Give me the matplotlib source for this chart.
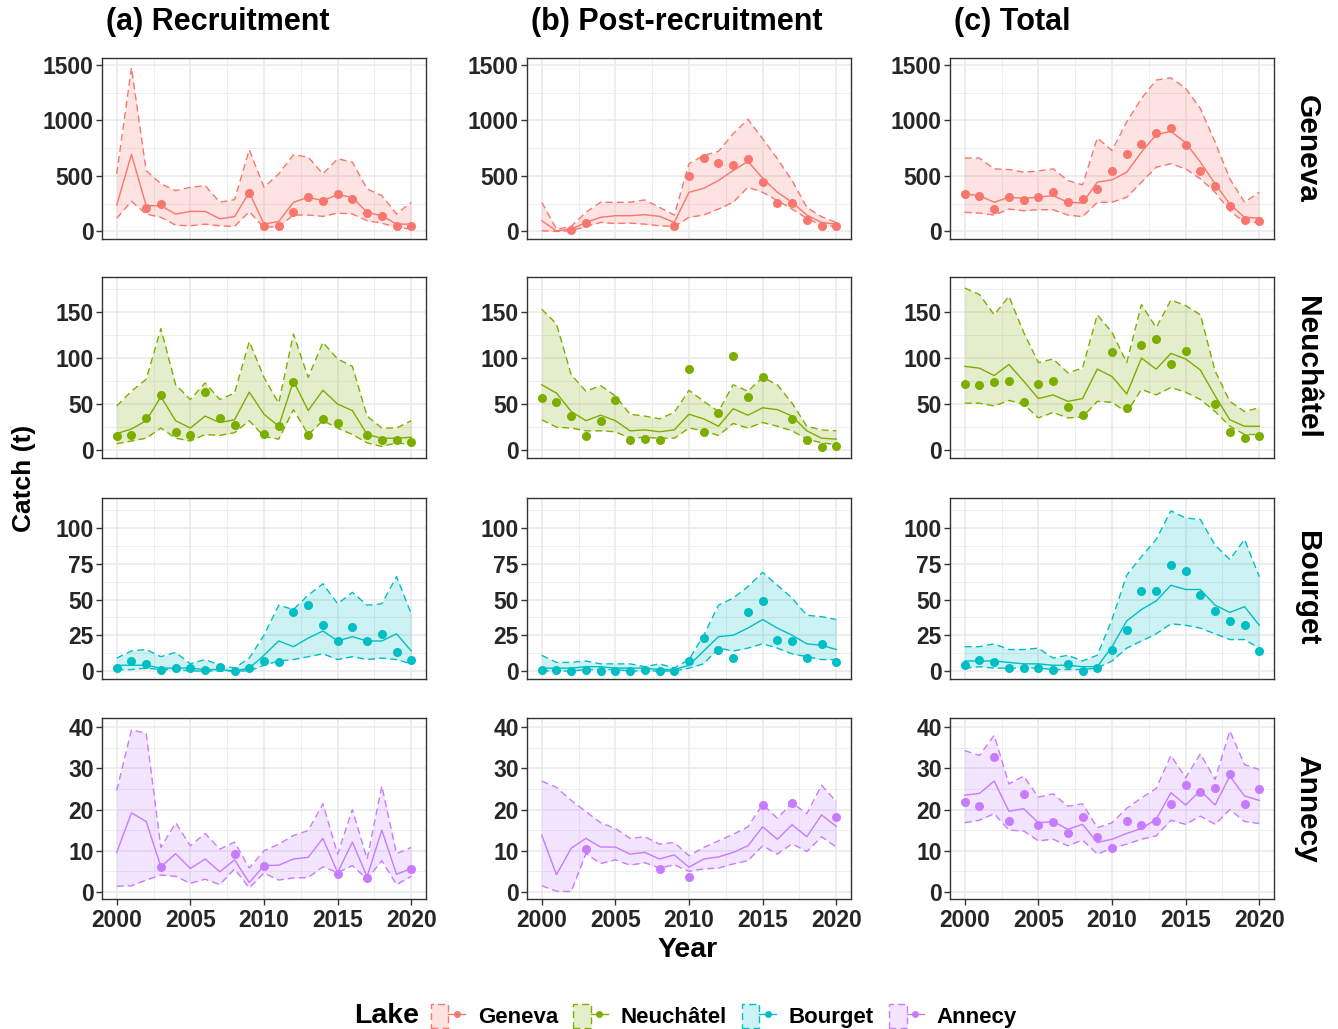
import numpy as np
import matplotlib
matplotlib.use('Agg')
import matplotlib.pyplot as plt
from matplotlib.patches import Patch
from matplotlib.lines import Line2D
from matplotlib.legend_handler import HandlerTuple

plt.rcParams['font.family'] = ['Liberation Sans', 'DejaVu Sans']
plt.rcParams['font.weight'] = 'bold'

nan = np.nan
YEARS = list(range(2000, 2021))
LAKES = ['Geneva', 'Neuchâtel', 'Bourget', 'Annecy']
COLOURS = ['#F8766D', '#7CAE00', '#00BFC4', '#C77CFF']
COLUMN_TITLES = ['(a) Recruitment', '(b) Post-recruitment', '(c) Total']

# Geneva
GEN_REC_MED = [238, 694, 232, 232, 157, 181, 181, 115, 133, 353, 66, 90, 263, 308, 278, 332, 308, 172, 142, 66, 66]
GEN_REC_HI = [519, 1476, 549, 429, 368, 398, 413, 263, 287, 736, 398, 519, 691, 670, 519, 655, 625, 383, 323, 157, 263]
GEN_REC_LO = [118, 272, 157, 127, 57, 51, 66, 51, 45, 178, 36, 45, 148, 148, 136, 166, 157, 97, 75, 36, 21]
GEN_REC_OBS = [nan, nan, 208, 244, nan, nan, nan, nan, nan, 344, 51, 51, 178, 308, 272, 335, 293, 169, 139, 51, 51]

GEN_POST_MED = [97, 5, 21, 81, 127, 142, 142, 151, 136, 81, 353, 389, 459, 549, 631, 480, 353, 263, 148, 81, 66]
GEN_POST_HI = [263, 21, 45, 172, 263, 263, 263, 284, 217, 148, 610, 685, 721, 881, 1011, 836, 655, 459, 217, 133, 81]
GEN_POST_LO = [6, 0, 6, 45, 81, 72, 75, 66, 51, 45, 127, 148, 202, 263, 398, 353, 278, 202, 118, 57, 45]
GEN_POST_OBS = [nan, nan, 12, 75, nan, nan, nan, nan, nan, 51, 504, 664, 619, 595, 655, 450, 257, 257, 100, 48, 48]

GEN_TOT_MED = [338, 323, 263, 308, 299, 308, 323, 263, 257, 444, 465, 534, 715, 872, 902, 800, 625, 429, 247, 127, 121]
GEN_TOT_HI = [661, 661, 564, 558, 534, 545, 564, 459, 420, 842, 730, 987, 1198, 1364, 1385, 1289, 1108, 806, 474, 263, 353]
GEN_TOT_LO = [172, 166, 148, 202, 187, 196, 196, 148, 133, 263, 263, 308, 444, 579, 610, 564, 474, 353, 187, 81, 81]
GEN_TOT_OBS = [335, 320, 205, 308, 281, 308, 359, 269, 293, 383, 543, 697, 785, 890, 933, 776, 543, 413, 229, 103, 91]

# Neuchatel
NEU_REC_MED = [18, 23, 32, 58, 32, 24, 37, 30, 33, 63, 39, 26, 75, 43, 65, 50, 43, 17, 13, 13, 14]
NEU_REC_HI = [48, 64, 77, 132, 71, 55, 73, 55, 62, 118, 79, 51, 126, 79, 117, 99, 91, 37, 24, 24, 32]
NEU_REC_LO = [7, 10, 13, 24, 13, 10, 17, 16, 19, 32, 15, 12, 44, 17, 32, 24, 17, 8, 4, 8, 6]
NEU_REC_OBS = [15, 16, 35, 60, 20, 16, 63, 35, 27, nan, 18, 26, 74, 17, 34, 29, nan, 16, 11, 11, 9]

NEU_POST_MED = [71, 62, 42, 32, 38, 32, 21, 22, 20, 22, 39, 34, 26, 45, 38, 46, 44, 37, 21, 13, 12]
NEU_POST_HI = [153, 137, 82, 64, 70, 59, 39, 37, 34, 41, 65, 53, 42, 71, 64, 79, 71, 51, 26, 22, 21]
NEU_POST_LO = [33, 25, 24, 21, 21, 20, 13, 14, 13, 13, 24, 21, 16, 29, 24, 30, 26, 21, 12, 8, 6]
NEU_POST_OBS = [57, 52, 37, 15, 32, 55, 11, 12, 11, nan, 88, 20, 40, 102, 58, 79, nan, 34, 11, 3, 5]

NEU_TOT_MED = [91, 89, 81, 93, 75, 56, 60, 53, 56, 88, 80, 61, 100, 88, 105, 99, 87, 59, 33, 26, 26]
NEU_TOT_HI = [176, 169, 147, 167, 128, 95, 99, 84, 89, 147, 128, 95, 158, 133, 163, 157, 147, 86, 53, 42, 46]
NEU_TOT_LO = [51, 51, 48, 54, 50, 35, 41, 35, 36, 53, 52, 41, 66, 60, 68, 63, 55, 42, 26, 17, 17]
NEU_TOT_OBS = [72, 71, 74, 75, 52, 72, 75, 47, 38, nan, 107, 46, 114, 121, 94, 108, nan, 50, 20, 13, 15]

# Bourget
BOU_REC_MED = [4, 4, 4, 2, 2, 2, 1, 1, 0, 2, 11, 21, 17, 23, 28, 21, 24, 21, 21, 26, 14]
BOU_REC_HI = [9, 14, 15, 10, 13, 5, 8, 4, 2, 9, 25, 46, 43, 53, 61, 47, 55, 46, 47, 66, 40]
BOU_REC_LO = [1, 1, 2, 1, 1, 0, 0, 0, 0, 0, 4, 7, 8, 10, 12, 8, 10, 8, 9, 8, 5]
BOU_REC_OBS = [2, 7, 5, 1, 2, 2, 1, 3, 0, 2, 7, 6, 41, 46, 32, 21, 31, 21, 26, 13, 8]

BOU_POST_MED = [2, 2, 2, 3, 3, 2, 2, 2, 1, 1, 4, 14, 24, 25, 30, 36, 30, 25, 19, 18, 15]
BOU_POST_HI = [11, 6, 6, 7, 5, 5, 5, 3, 5, 2, 8, 25, 46, 51, 59, 69, 60, 51, 39, 38, 36]
BOU_POST_LO = [0, 0, 0, 1, 1, 1, 0, 0, 0, 0, 2, 5, 16, 14, 16, 19, 16, 12, 10, 8, 8]
BOU_POST_OBS = [1, 1, 0, 1, 0, 0, 0, 1, 0, 0, 7, 23, 15, 9, 41, 49, 22, 21, 9, 19, 6]

BOU_TOT_MED = [7, 7, 7, 6, 5, 5, 4, 4, 3, 3, 17, 35, 43, 49, 60, 57, 57, 46, 41, 45, 32]
BOU_TOT_HI = [17, 17, 19, 15, 15, 16, 9, 11, 7, 11, 36, 67, 80, 92, 112, 107, 106, 88, 78, 92, 66]
BOU_TOT_LO = [2, 3, 2, 2, 2, 2, 1, 1, 1, 2, 7, 16, 21, 26, 33, 32, 30, 26, 22, 22, 16]
BOU_TOT_OBS = [4, 8, 6, 2, 2, 2, 1, 5, 0, 2, 15, 29, 56, 56, 74, 70, 53, 42, 35, 32, 14]

# Annecy
ANN_REC_MED = [9.6, 19.2, 17.1, 6.1, 9.3, 5.7, 8.0, 4.9, 7.8, 2.3, 6.4, 6.5, 8.0, 8.4, 13.0, 4.7, 12.1, 3.7, 15.0, 4.3, 5.7]
ANN_REC_HI = [24.6, 39.3, 38.5, 10.8, 16.8, 11.2, 14.2, 10.4, 12.1, 5.8, 10.0, 11.6, 13.7, 14.9, 21.4, 9.2, 20.0, 8.0, 25.7, 9.3, 10.8]
ANN_REC_LO = [1.4, 1.5, 2.9, 4.1, 3.8, 2.1, 3.1, 1.8, 5.6, 1.0, 4.6, 2.9, 3.4, 3.5, 6.1, 4.7, 6.4, 3.1, 7.6, 1.8, 3.8]
ANN_REC_OBS = [nan, nan, nan, 6.0, nan, nan, nan, nan, 9.3, nan, 6.2, nan, nan, nan, nan, 4.3, nan, 3.5, nan, nan, 5.6]

ANN_POST_MED = [13.8, 4.2, 10.6, 13.0, 10.9, 10.9, 9.2, 9.6, 8.0, 9.0, 6.0, 8.0, 8.5, 9.6, 11.2, 15.8, 12.8, 16.3, 13.4, 18.7, 15.9]
ANN_POST_HI = [26.9, 25.4, 22.2, 19.5, 16.8, 15.4, 13.0, 13.4, 11.6, 12.0, 8.8, 10.8, 12.4, 14.0, 15.8, 21.2, 17.9, 21.6, 19.0, 25.9, 21.9]
ANN_POST_LO = [1.5, 0.2, 0.1, 9.3, 6.9, 7.8, 6.5, 7.1, 5.8, 6.6, 5.0, 5.6, 5.8, 6.8, 7.6, 11.2, 9.2, 11.7, 9.8, 13.4, 10.9]
ANN_POST_OBS = [nan, nan, nan, 10.4, nan, nan, nan, nan, 5.6, nan, 3.7, nan, nan, nan, nan, 21.1, nan, 21.7, nan, nan, 18.3]

ANN_TOT_MED = [23.5, 23.9, 26.9, 19.6, 20.2, 16.8, 17.1, 15.2, 16.4, 12.0, 12.8, 14.2, 15.4, 17.6, 24.1, 21.1, 24.6, 21.1, 28.1, 23.3, 22.2]
ANN_TOT_HI = [34.3, 33.1, 38.0, 26.2, 28.1, 23.0, 23.8, 20.8, 21.4, 15.6, 16.8, 20.3, 22.8, 25.1, 33.1, 27.7, 33.5, 27.3, 39.1, 30.9, 29.7]
ANN_TOT_LO = [16.8, 17.4, 19.0, 15.0, 14.8, 12.4, 12.8, 11.2, 12.6, 9.2, 10.6, 11.6, 12.8, 13.6, 17.4, 16.4, 18.4, 16.4, 20.0, 17.1, 16.6]
ANN_TOT_OBS = [21.8, 20.8, 32.8, 17.3, 23.8, 16.3, 17.0, 14.2, 18.3, 13.4, 10.7, 17.3, 16.3, 17.3, 21.4, 25.9, 24.2, 25.2, 28.6, 21.4, 24.9]

PANELS = [
    [(GEN_REC_MED, GEN_REC_LO, GEN_REC_HI, GEN_REC_OBS),
     (GEN_POST_MED, GEN_POST_LO, GEN_POST_HI, GEN_POST_OBS),
     (GEN_TOT_MED, GEN_TOT_LO, GEN_TOT_HI, GEN_TOT_OBS)],
    [(NEU_REC_MED, NEU_REC_LO, NEU_REC_HI, NEU_REC_OBS),
     (NEU_POST_MED, NEU_POST_LO, NEU_POST_HI, NEU_POST_OBS),
     (NEU_TOT_MED, NEU_TOT_LO, NEU_TOT_HI, NEU_TOT_OBS)],
    [(BOU_REC_MED, BOU_REC_LO, BOU_REC_HI, BOU_REC_OBS),
     (BOU_POST_MED, BOU_POST_LO, BOU_POST_HI, BOU_POST_OBS),
     (BOU_TOT_MED, BOU_TOT_LO, BOU_TOT_HI, BOU_TOT_OBS)],
    [(ANN_REC_MED, ANN_REC_LO, ANN_REC_HI, ANN_REC_OBS),
     (ANN_POST_MED, ANN_POST_LO, ANN_POST_HI, ANN_POST_OBS),
     (ANN_TOT_MED, ANN_TOT_LO, ANN_TOT_HI, ANN_TOT_OBS)],
]

Y_TICKS = [[0, 500, 1000, 1500], [0, 50, 100, 150], [0, 25, 50, 75, 100], [0, 10, 20, 30, 40]]
Y_LIMS = [(-68, 1563), (-8.5, 188), (-5.6, 121), (-1.7, 42.2)]
X_TICKS = [2000, 2005, 2010, 2015, 2020]

W, H = 1338, 1029
COL_LEFT = [102, 527, 950]
ROW_TOP = [58, 277, 498, 718]
AX_W, AX_H = 324, 181

TEXT_COL = '#262626'
GRID_COL = '#EBEBEB'
DASH = (0, (5, 3))


def main():
    fig = plt.figure(figsize=(W / 100, H / 100), dpi=100)
    years = np.array(YEARS)
    for r in range(4):
        colour = COLOURS[r]
        yt = Y_TICKS[r]
        step = yt[1] - yt[0]
        for c in range(3):
            med, lo, hi, obs = PANELS[r][c]
            ax = fig.add_axes([COL_LEFT[c] / W, 1 - (ROW_TOP[r] + AX_H) / H, AX_W / W, AX_H / H])
            ax.set_axisbelow(True)
            ax.fill_between(years, lo, hi, color=colour, alpha=0.2, lw=0)
            ax.plot(years, lo, color=colour, lw=1, ls=DASH)
            ax.plot(years, hi, color=colour, lw=1, ls=DASH)
            ax.plot(years, med, color=colour, lw=1)
            ax.plot(years, obs, 'o', color=colour, ms=6.5, mec='none')

            ax.set_xlim(1999, 2021)
            ax.set_ylim(*Y_LIMS[r])
            ax.set_xticks(X_TICKS)
            ax.set_xticks([2002.5, 2007.5, 2012.5, 2017.5], minor=True)
            ax.set_yticks(yt)
            minor = [v + step / 2 for v in [yt[0] - step] + yt]
            minor = [v for v in minor if Y_LIMS[r][0] < v < Y_LIMS[r][1]]
            ax.set_yticks(minor, minor=True)
            ax.grid(True, which='major', color=GRID_COL, lw=1.2)
            ax.grid(True, which='minor', color=GRID_COL, lw=0.6)
            ax.tick_params(which='minor', length=0)
            ax.tick_params(axis='y', which='major', length=4, width=1, color='#333333',
                           labelsize=16.5, labelcolor=TEXT_COL, pad=2)
            if r == 3:
                ax.tick_params(axis='x', which='major', length=4, width=1, color='#333333',
                               labelsize=16.5, labelcolor=TEXT_COL, pad=3)
            else:
                ax.tick_params(axis='x', which='major', length=0, labelbottom=False)
            for sp in ax.spines.values():
                sp.set_color('#333333')
                sp.set_linewidth(1)

            if r == 0:
                fig.text((COL_LEFT[c] + 4) / W, 1 - 22 / H, COLUMN_TITLES[c],
                         fontsize=22, fontweight='bold', ha='left', va='center', color='black')
        fig.text(1307 / W, 1 - (ROW_TOP[r] + AX_H / 2) / H, LAKES[r], rotation=-90,
                 fontsize=21.5, fontweight='bold', ha='center', va='center', color='black')

    fig.text(24 / W, 1 - 478 / H, 'Catch (t)', rotation=90, fontsize=19,
             fontweight='bold', ha='center', va='center')
    fig.text(688 / W, 1 - 950 / H, 'Year', fontsize=20.5, fontweight='bold',
             ha='center', va='center')

    # legend
    fig.text(387 / W, 1 - 1016 / H, 'Lake', fontsize=20.5, fontweight='bold',
             ha='center', va='center')
    handles = []
    for colour in COLOURS:
        box = Patch(facecolor=matplotlib.colors.to_rgba(colour, 0.2), edgecolor=colour,
                    linestyle=DASH, linewidth=1)
        ln = Line2D([], [], color=colour, lw=1, marker='o', ms=5, mec='none')
        handles.append((box, ln))
    fig.legend(handles, LAKES, handler_map={tuple: HandlerTuple(ndivide=None)},
               loc='center left', bbox_to_anchor=(431 / W, 1 - 1016 / H), ncol=4,
               frameon=False, fontsize=16, handlelength=1.55, handleheight=1.3,
               handletextpad=0.55, columnspacing=0.7, borderaxespad=0, borderpad=0)

    fig.savefig('out.png', dpi=100)


main()
